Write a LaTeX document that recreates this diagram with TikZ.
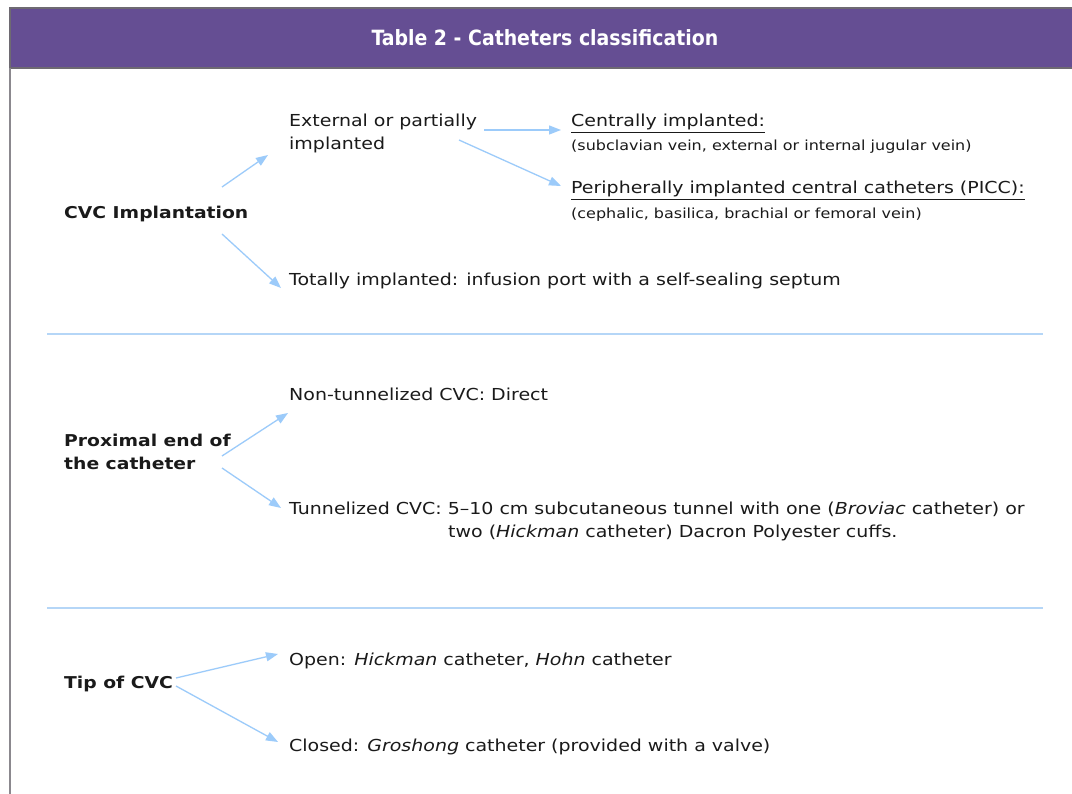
\documentclass[tikz,border=0pt]{standalone}
\usepackage{fontspec}
\setmainfont{DejaVu Sans}[FakeStretch=1.15]
\newfontfamily\titlefont{DejaVu Sans Condensed}
\usetikzlibrary{arrows.meta,calc}
\definecolor{band}{HTML}{654E93}
\definecolor{bandedge}{HTML}{6E6A72}
\definecolor{arrowc}{HTML}{9CCBFA}
\definecolor{sepc}{HTML}{B5D6F7}
\definecolor{txt}{HTML}{1A1A1A}
\tikzset{
  lbl/.style={anchor=base west, inner sep=0pt, text=txt, font=\fontsize{16.5}{23}\selectfont, align=left},
  head/.style={lbl, font=\bfseries\fontsize{16.3}{23}\selectfont},
  small/.style={lbl, font=\fontsize{13.9}{15}\selectfont},
  conn/.style={draw=arrowc, line width=1.3pt, -{Triangle[length=12pt,width=9pt]}},
  sep/.style={draw=sepc, line width=1.6pt},
}
\begin{document}
\begin{tikzpicture}[x=1pt,y=-1pt]
\useasboundingbox (0,0) rectangle (1072,794);
\fill[white] (0,0) rectangle (1072,794);
% title band
\filldraw[fill=band, draw=bandedge, line width=1.5pt] (10,8) rectangle (1080,68);
\node[text=white, inner sep=0pt, font=\titlefont\bfseries\fontsize{21}{24}\selectfont] (title) at (545,38) {Table 2 - Catheters classification};
\draw[draw=bandedge!80, line width=2pt] (10,68) -- (10,794);
% section 1
\node[head] (cvc) at (64,219) {CVC Implantation};
\node[lbl] (ext) at (289,150) {External or partially\\implanted};
\node[lbl] (cen) at (571,127) {\underline{Centrally implanted:}};
\node[small] (cens) at (571,151) {(subclavian vein, external or internal jugular vein)};
\node[lbl] (picc) at (571,194) {\underline{Peripherally implanted central catheters (PICC):}};
\node[small] (piccs) at (571,219) {(cephalic, basilica, brachial or femoral vein)};
\node[lbl] (tot) at (289,286) {Totally implanted: infusion port with a self-sealing septum};
\draw[conn] ([shift={(158,-32)}]cvc.base west) -- ([shift={(-21,5)}]ext.base west);
\draw[conn] ([shift={(158,15)}]cvc.base west) -- ([shift={(-8,2)}]tot.base west);
\draw[conn] ([shift={(195,-20)}]ext.base west) -- ([shift={(-10,3)}]cen.base west);
\draw[conn] ([shift={(170,-10)}]ext.base west) -- ([shift={(-10,-8)}]picc.base west);
\draw[sep] (47,334) -- (1043,334);
% section 2
\node[head] (prox) at (64,470) {Proximal end of\\the catheter};
\node[lbl] (non) at (289,401) {Non-tunnelized CVC: Direct};
\node[lbl] (tun) at (289,537) {Tunnelized CVC: 5--10 cm subcutaneous tunnel with one (\textit{Broviac} catheter) or\\
\hspace*{159pt}two (\textit{Hickman} catheter) Dacron Polyester cuffs.};
\draw[conn] ([shift={(158,-14)}]prox.base west) -- ([shift={(-1,12)}]non.base west);
\draw[conn] ([shift={(158,-2)}]prox.base west) -- ([shift={(-8,-29)}]tun.base west);
\draw[sep] (47,608) -- (1043,608);
% section 3
\node[head] (tip) at (64,688) {Tip of CVC};
\node[lbl] (open) at (289,665) {Open: \textit{Hickman} catheter, \textit{Hohn} catheter};
\node[lbl] (clo) at (289,751) {Closed: \textit{Groshong} catheter (provided with a valve)};
\draw[conn] ([shift={(112,-10)}]tip.base west) -- ([shift={(-11,-11)}]open.base west);
\draw[conn] ([shift={(112,-2)}]tip.base west) -- ([shift={(-11,-9)}]clo.base west);
\end{tikzpicture}
\end{document}
